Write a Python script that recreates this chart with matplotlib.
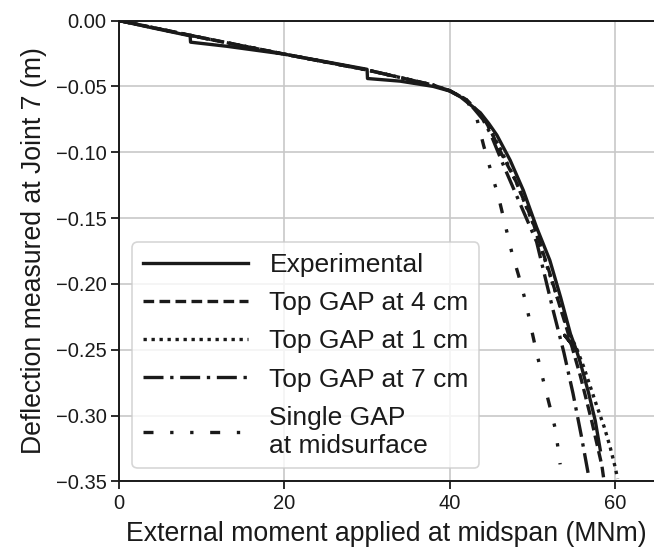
import numpy as np
import matplotlib.pyplot as plt

plt.rcParams['font.family'] = ['Liberation Sans', 'DejaVu Sans']

# Datos (momento en MNm, deflexion en m)
exp_x = [0, 4, 8.6, 8.65, 13, 20, 30, 30.05, 34, 38, 40, 41.3, 43.7, 44.7, 45.7, 47.3, 48.9,
         50.5, 52.1, 53.4, 54.6, 55.3, 53.9, 55.3, 55.8, 56.8, 57.6, 58.2]
exp_y = [0, -0.0055, -0.0116, -0.0164, -0.0195, -0.0255, -0.037, -0.044, -0.046, -0.050,
         -0.0535, -0.058, -0.070, -0.078, -0.087, -0.106, -0.129, -0.157, -0.182, -0.210,
         -0.238, -0.250, -0.239, -0.250, -0.260, -0.283, -0.304, -0.326]

base_x = [0, 5, 10, 20, 30, 38, 40, 42]
base_y = [0, -0.0065, -0.013, -0.0255, -0.0375, -0.049, -0.0533, -0.060]

gap4_x = base_x + [44, 45, 46, 48, 50, 52, 54.2, 55.8, 57.2, 58.4, 58.6]
gap4_y = base_y + [-0.073, -0.084, -0.098, -0.122, -0.152, -0.190, -0.235, -0.270, -0.305, -0.338, -0.347]

gap1_x = base_x + [44, 46, 48, 50, 52.2, 54.3, 55.4, 56.2, 57.0, 57.8, 58.7, 59.4, 60.0, 60.3]
gap1_y = base_y + [-0.073, -0.096, -0.122, -0.153, -0.195, -0.235, -0.250, -0.263, -0.278,
                   -0.293, -0.309, -0.324, -0.339, -0.348]

gap7_x = base_x + [44, 45, 46.5, 48.5, 50.5, 52.5, 53.8, 54.9, 55.9, 56.8]
gap7_y = base_y + [-0.075, -0.087, -0.110, -0.139, -0.168, -0.220, -0.252, -0.283, -0.315, -0.346]

single_x = base_x + [43.3, 44.1, 45.1, 45.9, 46.7, 47.5, 48.3, 49.2, 49.9, 50.5, 51.3, 52.1, 52.8, 53.35]
single_y = base_y + [-0.075, -0.095, -0.117, -0.134, -0.155, -0.176, -0.193, -0.214, -0.235,
                     -0.252, -0.273, -0.293, -0.311, -0.337]

fig = plt.figure(figsize=(6.54, 5.56), dpi=100)
ax = fig.add_axes([0.182, 0.134, 0.818, 0.829])

c = '#1a1a1a'
lw = 2.4
ax.plot(exp_x, exp_y, color=c, lw=lw, ls='-', label='Experimental')
ax.plot(gap4_x, gap4_y, color=c, lw=lw, ls=(0, (3.2, 1.6)), label='Top GAP at 4 cm')
ax.plot(gap1_x, gap1_y, color=c, lw=lw, ls=(0, (1, 1.4)), label='Top GAP at 1 cm')
ax.plot(gap7_x, gap7_y, color=c, lw=lw, ls=(0, (6, 2, 1, 2)), label='Top GAP at 7 cm')
ax.plot(single_x, single_y, color=c, lw=lw, ls=(0, (3, 5, 1, 5, 1, 5)),
        label='Single GAP\nat midsurface')

ax.set_xlim(0, 64.7)
ax.set_ylim(-0.35, 0)
ax.set_xticks([0, 20, 40, 60])
ax.set_yticks(np.arange(-0.35, 0.001, 0.05))
ax.yaxis.set_major_formatter(plt.FuncFormatter(
    lambda v, p: ('%.2f' % (0.0 if abs(v) < 1e-9 else v)).replace('-', '\u2212')))
ax.grid(True, color='#c8c8c8', lw=1.2)
ax.set_axisbelow(True)
ax.tick_params(labelsize=14.5, width=1.3, length=6, pad=3, color=c, labelcolor=c)
for s in ['left', 'bottom', 'top']:
    ax.spines[s].set_color(c)
    ax.spines[s].set_linewidth(1.4)
ax.spines['right'].set_visible(False)

ax.set_xlabel('External moment applied at midspan (MNm)', fontsize=19.2, color=c, labelpad=6)
ax.set_ylabel('Deflection measured at Joint 7 (m)', fontsize=19.2, color=c, labelpad=6)

leg = ax.legend(loc='lower left', fontsize=19, handlelength=4.0, handletextpad=0.8,
                frameon=True, fancybox=True, borderaxespad=0.5, labelspacing=0.54,
                borderpad=0.4)
leg.get_frame().set_edgecolor('#cccccc')
leg.get_frame().set_linewidth(1.2)
for t in leg.get_texts():
    t.set_color(c)

fig.savefig('out.png', dpi=100)
